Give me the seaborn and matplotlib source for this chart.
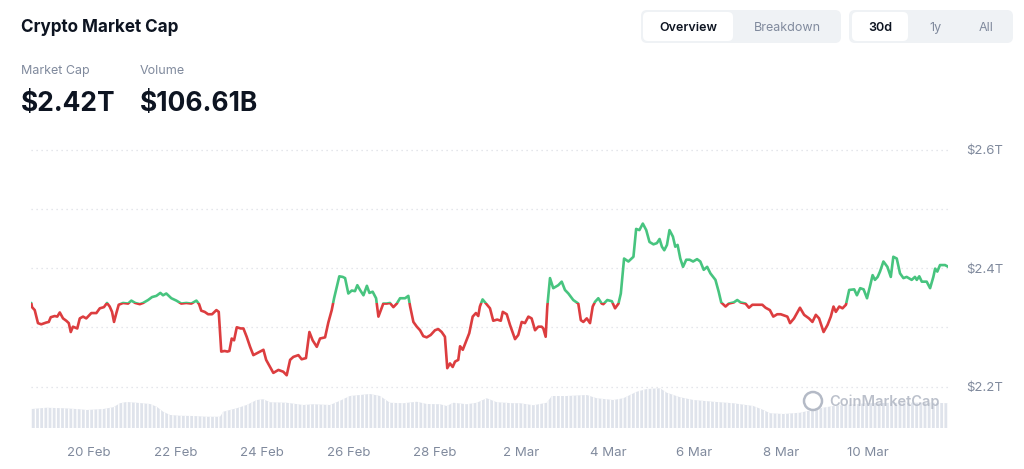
import numpy as np
import pandas as pd
import seaborn as sns
import matplotlib.pyplot as plt
import matplotlib.dates as mdates
import matplotlib.transforms as mtransforms
from matplotlib.patches import Rectangle, FancyBboxPatch, Ellipse

# market cap (trillions USD), hours since start
start = pd.Timestamp("2023-02-18 16:00")
hours = [0.0, 0.4, 1.9, 3.7, 5.5, 8.3, 9.7, 10.8, 13.0, 14.4, 15.8, 17.6, 19.4, 20.8, 21.9, 23.1,
         25.5, 26.9, 28.7, 30.5, 33.3, 36.1, 38.0, 40.3, 42.0, 43.5, 44.8, 45.9, 47.2, 48.5, 50.9,
         53.7, 55.5, 57.7, 60.2, 62.0, 64.8, 67.0, 69.4, 71.6, 73.1, 74.9, 77.7, 80.5, 83.2, 86.0,
         88.8, 91.6, 93.1, 94.3, 96.2, 98.1, 100.3, 102.7, 104.0, 105.4, 107.3, 108.8, 109.9, 111.2,
         112.5, 114.0, 116.2, 117.7, 119.5, 121.4, 123.2, 125.1, 126.9, 128.8, 130.3, 132.5, 134.3,
         137.1, 139.8, 141.7, 143.6, 145.4, 148.2, 150.0, 152.4, 154.3, 156.1, 158.4, 160.2, 163.0,
         164.8, 166.7, 168.0, 169.5, 170.9, 172.8, 174.1, 175.9, 177.8, 179.6, 180.9, 182.4, 184.3,
         186.2, 187.6, 189.4, 191.3, 192.6, 195.3, 197.2, 199.0, 200.9, 202.8, 204.6, 207.4, 209.2,
         210.2, 212.0, 213.9, 215.7, 217.5, 219.4, 221.6, 224.0, 225.8, 227.7, 229.5, 230.8, 232.3,
         233.8, 235.1, 236.9, 237.9, 239.4, 241.2, 243.0, 244.9, 246.7, 248.0, 248.9, 250.4, 252.3,
         254.5, 256.3, 258.5, 260.5, 261.6, 263.8, 265.6, 268.4, 270.2, 272.1, 273.9, 275.8, 277.6,
         279.5, 281.3, 283.2, 284.1, 285.4, 286.3, 287.8, 289.6, 292.4, 294.3, 296.1, 298.0, 300.7,
         303.5, 304.9, 306.3, 308.2, 310.0, 311.5, 312.8, 314.6, 316.5, 317.4, 319.6, 322.1, 323.9,
         325.8, 327.1, 328.9, 331.3, 334.1, 335.6, 337.4, 339.3, 341.2, 343.0, 345.2, 347.1, 348.6,
         349.9, 351.2, 352.7, 354.1, 356.0, 357.3, 358.6, 360.1, 361.6, 363.4, 365.3, 367.2, 369.4,
         371.2, 373.1, 375.0, 376.8, 379.6, 381.4, 382.8, 385.2, 387.0, 389.8, 391.7, 393.5, 396.3,
         398.2, 400.1, 402.8, 405.6, 407.4, 409.8, 411.7, 413.9, 415.8, 419.5, 421.0, 423.2, 426.5,
         428.8, 431.5, 433.4, 435.3, 437.1, 439.6, 441.8, 443.6, 445.1, 446.4, 448.3, 450.1, 452.0,
         453.8, 456.6, 458.1, 459.9, 461.8, 463.7, 465.5, 466.8, 468.1, 469.6, 470.9, 472.8, 475.0,
         476.9, 478.3, 480.2, 482.0, 483.9, 485.7, 488.5, 490.3, 491.3, 492.7, 494.1, 496.8, 498.7,
         500.5, 501.5, 502.7, 504.2, 507.0, 508.8]
cap = [2.341, 2.334, 2.329, 2.307, 2.305, 2.308, 2.309, 2.317, 2.319, 2.318, 2.325, 2.315, 2.311,
       2.307, 2.292, 2.301, 2.298, 2.315, 2.318, 2.315, 2.324, 2.324, 2.332, 2.334, 2.341, 2.335,
       2.326, 2.309, 2.324, 2.338, 2.341, 2.340, 2.345, 2.341, 2.339, 2.341, 2.346, 2.351, 2.353,
       2.358, 2.354, 2.357, 2.349, 2.345, 2.340, 2.341, 2.340, 2.345, 2.339, 2.328, 2.326, 2.322,
       2.322, 2.329, 2.326, 2.259, 2.260, 2.259, 2.260, 2.281, 2.278, 2.300, 2.298, 2.298, 2.284,
       2.267, 2.253, 2.256, 2.259, 2.262, 2.245, 2.233, 2.223, 2.228, 2.225, 2.219, 2.245, 2.250,
       2.253, 2.246, 2.248, 2.292, 2.278, 2.267, 2.281, 2.283, 2.308, 2.329, 2.349, 2.368, 2.386,
       2.385, 2.383, 2.357, 2.362, 2.361, 2.371, 2.363, 2.354, 2.370, 2.358, 2.360, 2.349, 2.318,
       2.340, 2.340, 2.341, 2.334, 2.340, 2.349, 2.349, 2.353, 2.335, 2.309, 2.301, 2.295, 2.285,
       2.283, 2.287, 2.295, 2.297, 2.292, 2.284, 2.231, 2.239, 2.233, 2.242, 2.245, 2.268, 2.262,
       2.276, 2.290, 2.318, 2.324, 2.319, 2.335, 2.347, 2.340, 2.332, 2.311, 2.313, 2.311, 2.326,
       2.322, 2.304, 2.280, 2.287, 2.309, 2.307, 2.318, 2.315, 2.295, 2.301, 2.301, 2.298, 2.284,
       2.335, 2.383, 2.366, 2.371, 2.377, 2.363, 2.357, 2.346, 2.340, 2.312, 2.309, 2.315, 2.307,
       2.335, 2.343, 2.349, 2.340, 2.339, 2.346, 2.344, 2.332, 2.340, 2.357, 2.416, 2.411, 2.419,
       2.466, 2.464, 2.475, 2.464, 2.444, 2.440, 2.442, 2.449, 2.436, 2.430, 2.439, 2.464, 2.453,
       2.436, 2.439, 2.416, 2.402, 2.414, 2.414, 2.411, 2.415, 2.411, 2.397, 2.402, 2.391, 2.380,
       2.360, 2.342, 2.335, 2.340, 2.342, 2.346, 2.342, 2.340, 2.333, 2.338, 2.338, 2.338, 2.333,
       2.329, 2.318, 2.322, 2.322, 2.318, 2.307, 2.315, 2.333, 2.321, 2.315, 2.309, 2.321, 2.315,
       2.292, 2.304, 2.318, 2.335, 2.326, 2.335, 2.332, 2.338, 2.363, 2.364, 2.354, 2.366, 2.364,
       2.349, 2.371, 2.388, 2.380, 2.385, 2.394, 2.411, 2.402, 2.385, 2.419, 2.416, 2.391, 2.383,
       2.385, 2.380, 2.385, 2.380, 2.386, 2.377, 2.377, 2.366, 2.385, 2.399, 2.394, 2.405, 2.405,
       2.402]

# 24h volume (billions USD)
vol_hours = [0.2, 8.5, 17.8, 27.0, 30.7, 40.0, 45.5, 49.2, 52.9, 58.5, 65.9, 69.6, 73.2, 77.0, 82.5,
             89.9, 97.3, 104.7, 106.5, 114.0, 119.5, 125.1, 128.7, 132.5, 141.7, 150.9, 156.5, 165.8,
             171.3, 176.8, 182.4, 187.9, 193.5, 199.0, 206.4, 213.9, 219.4, 226.8, 230.5, 234.2,
             241.6, 247.2, 252.7, 258.3, 267.5, 271.2, 278.6, 286.0, 288.8, 297.1, 308.2, 313.7,
             322.9, 328.5, 335.9, 341.5, 348.9, 352.6, 360.0, 367.4, 378.4, 389.5, 400.6, 406.2,
             409.9, 417.3, 426.5, 437.6, 445.0, 463.6, 482.0, 500.5, 508.8]
vol = [76, 81, 79, 75, 72, 76, 83, 99, 104, 101, 96, 85, 65, 52, 49, 48, 45, 45, 65, 79, 92, 112,
       115, 103, 101, 92, 95, 92, 109, 128, 132, 136, 128, 101, 99, 105, 96, 95, 88, 101, 95, 101,
       119, 103, 99, 99, 91, 101, 128, 128, 132, 119, 112, 119, 145, 156, 159, 141, 123, 112, 105,
       99, 88, 72, 59, 56, 61, 79, 88, 99, 101, 101, 99]

x_ticks = pd.date_range("2023-02-20", periods=10, freq="2D")
y_ticks = [2.2, 2.4, 2.6]

df = pd.DataFrame({"time": start + pd.to_timedelta(hours, unit="h"), "cap": cap})
vdf = pd.DataFrame({"time": start + pd.to_timedelta(vol_hours, unit="h"), "vol": vol})
base = cap[0]

sns.set_theme(style="white")
plt.rcParams["font.family"] = ["Inter", "DejaVu Sans"]

W, H = 1024, 469
DARK = "#0d1421"
GREY = "#808a9d"
GREEN = "#47c47f"
RED = "#dc3d3f"

fig = plt.figure(figsize=(W / 100, H / 100), dpi=100)
fig.patch.set_facecolor("white")


def fx(x):
    return x / W


def fy(y):
    return 1 - y / H


rect = [fx(31.3), fy(428), 917 / W, 288 / H]
vax = fig.add_axes(rect, zorder=0)
ax = fig.add_axes(rect, zorder=1)
ax.set_facecolor("none")

xlim = (df["time"].iloc[0], df["time"].iloc[-1])

# volume
vax.fill_between(vdf["time"], 0, vdf["vol"], facecolor="#dfe3eb", edgecolor="white",
                 hatch="||||", linewidth=0)
vax.set_xlim(xlim)
vax.set_ylim(0, 288 * 4)
vax.axis("off")

# market cap line, green above the starting value and red below
blend = mtransforms.blended_transform_factory(ax.transAxes, ax.transData)
for color, lo in [(GREEN, base), (RED, base - 10)]:
    sns.lineplot(data=df, x="time", y="cap", ax=ax, color=color, linewidth=1.9)
    ln = ax.lines[-1]
    ln.set_clip_path(Rectangle((0, lo), 1, 10, transform=blend))

ax.set_xlim(xlim)
ax.set_ylim(2.13, 2.13 + 288 / 592.5)
ax.set_xlabel("")
ax.set_ylabel("")
for s in ax.spines.values():
    s.set_visible(False)

ax.set_yticks(y_ticks)
ax.set_yticks([2.3, 2.5], minor=True)
ax.set_yticklabels([f"${v:.1f}T" for v in y_ticks])
ax.yaxis.tick_right()
ax.grid(which="both", axis="y", linestyle=(0, (1, 3)), color="#dcdfe5", linewidth=0.9)
ax.grid(axis="x", visible=False)
ax.set_xticks(x_ticks)
ax.set_xticklabels([f"{d.day} {d:%b}" for d in x_ticks])
ax.tick_params(axis="x", length=0, pad=14, labelsize=9.5, labelcolor=GREY)
ax.tick_params(axis="y", which="both", length=0, pad=13, labelsize=9.5, labelcolor=GREY)

# header texts
fig.text(fx(21), fy(31.5), "Crypto Market Cap", fontsize=12.3, fontweight="bold", color=DARK,
         va="baseline")
fig.text(fx(21), fy(74), "Market Cap", fontsize=9, color=GREY, va="baseline")
fig.text(fx(140), fy(74), "Volume", fontsize=9, color=GREY, va="baseline")
fig.text(fx(21), fy(111), "$2.42T", fontsize=19, fontweight="bold", color=DARK, va="baseline")
fig.text(fx(140), fy(111), "$106.61B", fontsize=19, fontweight="bold", color=DARK, va="baseline")

# toggle buttons


def pill(x0, y0, x1, y1, color, r=6):
    fig.patches.append(FancyBboxPatch((fx(x0), fy(y1)), fx(x1 - x0), (y1 - y0) / H,
                                      boxstyle=f"round,pad=0,rounding_size={r / W}",
                                      transform=fig.transFigure, facecolor=color,
                                      edgecolor="none", mutation_aspect=W / H))


pill(641, 10, 841, 43, "#eff2f5")
pill(643, 12, 733, 41, "white", 5)
pill(849, 10, 1013, 43, "#eff2f5")
pill(852, 12, 908, 41, "white", 5)
fig.text(fx(688), fy(30.7), "Overview", fontsize=9, fontweight="semibold", color=DARK,
         ha="center", va="baseline")
fig.text(fx(787), fy(30.7), "Breakdown", fontsize=9, color=GREY, ha="center", va="baseline")
fig.text(fx(880.5), fy(30.7), "30d", fontsize=9, fontweight="semibold", color=DARK,
         ha="center", va="baseline")
fig.text(fx(935), fy(30.7), "1y", fontsize=9, color=GREY, ha="center", va="baseline")
fig.text(fx(986), fy(30.7), "All", fontsize=9, color=GREY, ha="center", va="baseline")

# watermark
fig.patches.append(Ellipse((fx(813), fy(401)), 18 / W, 18 / H, transform=fig.transFigure,
                           fill=False, edgecolor="#b4bac6", linewidth=1.8))
fig.text(fx(829), fy(401.5), "CoinMarketCap", fontsize=10.5, fontweight="semibold",
         color="#b4bac6", va="center", alpha=0.9)

fig.savefig("out.png", dpi=100, facecolor="white")
